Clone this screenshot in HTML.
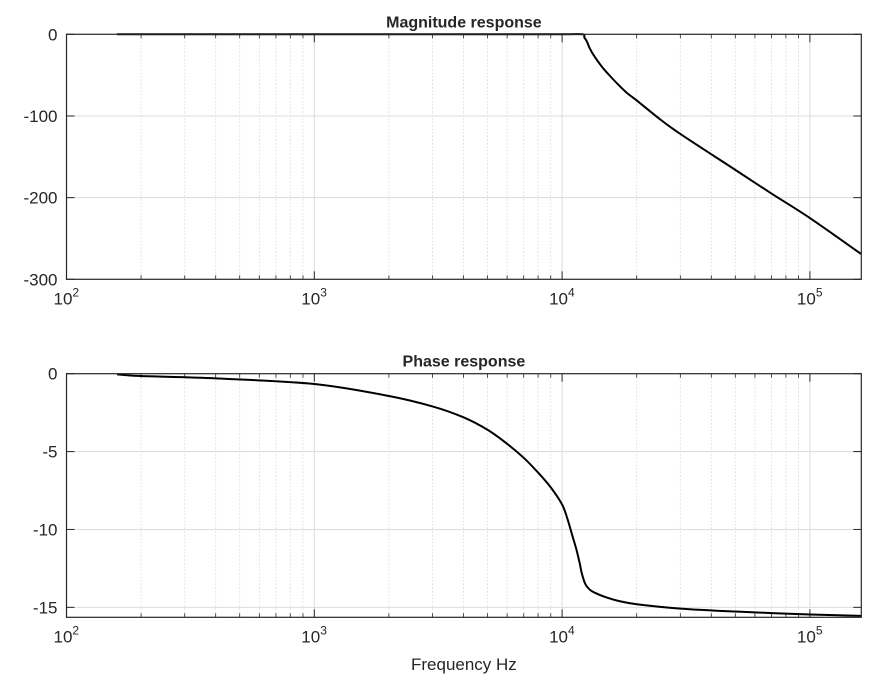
<!DOCTYPE html>
<html><head><meta charset="utf-8"><style>
html,body{margin:0;padding:0;background:#fff;width:875px;height:691px;overflow:hidden}
svg text{font-family:"Liberation Sans",Arial,sans-serif;fill:#262626}
</style></head><body>
<svg id="chart" width="875" height="691" xmlns="http://www.w3.org/2000/svg"></svg>
<script>
const magFreq=[160,1000,5000,10000,12080,12300,12600,12920,13500,14500,15500,16900,18300,20000,24600,30000,50000,70000,100000,161000];
const magDb=[0,0,0,0,0,-4,-9,-17,-27,-40,-50,-62,-72,-81,-103,-122,-166,-195,-225,-269];
const phFreq=[160,200,400,1000,2000,3000,4000,5000,6000,7000,8000,9000,10000,10500,11000,11430,11790,12000,12400,12900,13500,15000,17000,20000,30000,50000,100000,161000];
const phVal=[-0.04,-0.15,-0.3,-0.66,-1.43,-2.1,-2.8,-3.6,-4.5,-5.4,-6.35,-7.3,-8.4,-9.3,-10.4,-11.3,-12.2,-12.8,-13.5,-13.85,-14.05,-14.35,-14.6,-14.8,-15.08,-15.27,-15.46,-15.55];
const xTickExp=[2,3,4,5];
const magTicks=[0,-100,-200,-300];
const phTicks=[0,-5,-10,-15];

const NS="http://www.w3.org/2000/svg";
const svg=document.getElementById('chart');
const X0=66.5,X1=861.3,DEC=247.8;
function xs(f){return X0+(Math.log10(f)-2)*DEC;}
function mk(tag,attrs,parent){const e=document.createElementNS(NS,tag);for(const k in attrs)e.setAttribute(k,attrs[k]);(parent||svg).appendChild(e);return e;}
function smoothPath(pts){
  let d='M'+pts[0][0].toFixed(2)+','+pts[0][1].toFixed(2);
  for(let i=0;i<pts.length-1;i++){
    const p0=pts[Math.max(0,i-1)],p1=pts[i],p2=pts[i+1],p3=pts[Math.min(pts.length-1,i+2)];
    const t=0.16;
    const c1=[p1[0]+(p2[0]-p0[0])*t,p1[1]+(p2[1]-p0[1])*t];
    const c2=[p2[0]-(p3[0]-p1[0])*t,p2[1]-(p3[1]-p1[1])*t];
    d+=' C'+c1[0].toFixed(2)+','+c1[1].toFixed(2)+' '+c2[0].toFixed(2)+','+c2[1].toFixed(2)+' '+p2[0].toFixed(2)+','+p2[1].toFixed(2);
  }
  return d;
}

function panel(name,top,bot,ymin,ymax,ticks,freq,vals,title){
  const g=mk('g',{});
  
  
  const ys=v=>top+(ymax-v)/(ymax-ymin)*(bot-top);
  for(let e=2;e<=5;e++)for(let m=2;m<=9;m++){const f=m*Math.pow(10,e);const x=xs(f);if(x>=X1)continue;
    const l=mk('line',{x1:x,x2:x,y1:top,y2:bot,stroke:'#d6d6d6','stroke-width':0.8,'stroke-dasharray':'1.5,2'},g);
    
    mk('line',{x1:x,x2:x,y1:bot,y2:bot-4,stroke:'#262626','stroke-width':0.8},g);
    mk('line',{x1:x,x2:x,y1:top,y2:top+4,stroke:'#262626','stroke-width':0.8},g);}
  xTickExp.forEach(e=>{const x=xs(Math.pow(10,e));
    if(e>2){const l=mk('line',{x1:x,x2:x,y1:top,y2:bot,stroke:'#dcdcdc','stroke-width':1},g);
    }
    mk('line',{x1:x,x2:x,y1:bot,y2:bot-8,stroke:'#262626','stroke-width':1},g);
    mk('line',{x1:x,x2:x,y1:top,y2:top+8,stroke:'#262626','stroke-width':1},g);
    const t=mk('text',{x:x-13,y:bot+25,'font-size':17},g);
    
    t.textContent='10';
    const s=mk('tspan',{dy:-8,'font-size':12},t);s.textContent=e;});
  ticks.forEach(v=>{const y=ys(v);
    if(v!==ymax&&Math.abs(y-bot)>0.5){const l=mk('line',{x1:X0,x2:X1,y1:y,y2:y,stroke:'#dcdcdc','stroke-width':1},g);
    }
    mk('line',{x1:X0,x2:X0+8,y1:y,y2:y,stroke:'#262626','stroke-width':1},g);
    mk('line',{x1:X1,x2:X1-8,y1:y,y2:y,stroke:'#262626','stroke-width':1},g);
    const t=mk('text',{x:X0-9,y:y+6,'font-size':17,'text-anchor':'end'},g);
    
    t.textContent=v;});
  const pts=freq.map((f,i)=>[xs(f),ys(vals[i])]);
  const p=mk('path',{d:smoothPath(pts),fill:'none',stroke:'#000','stroke-width':2,'stroke-linejoin':'round'},g);
  
  const r=mk('rect',{x:X0,y:top,width:X1-X0,height:bot-top,fill:'none',stroke:'#262626','stroke-width':1.2},g);
  
  const tt=mk('text',{x:(X0+X1)/2,y:top-7,'font-size':16,'font-weight':'bold','text-anchor':'middle',fill:'#000'},g);
  
  tt.textContent=title;
}
panel('magnitude',34.3,279.3,-300,0,magTicks,magFreq,magDb,'Magnitude response');
panel('phase',373.7,617.3,-15.64,0,phTicks,phFreq,phVal,'Phase response');
const xl=mk('text',{x:(X0+X1)/2,y:670,'font-size':17,'text-anchor':'middle'});


xl.textContent='Frequency Hz';
</script>
</body></html>
